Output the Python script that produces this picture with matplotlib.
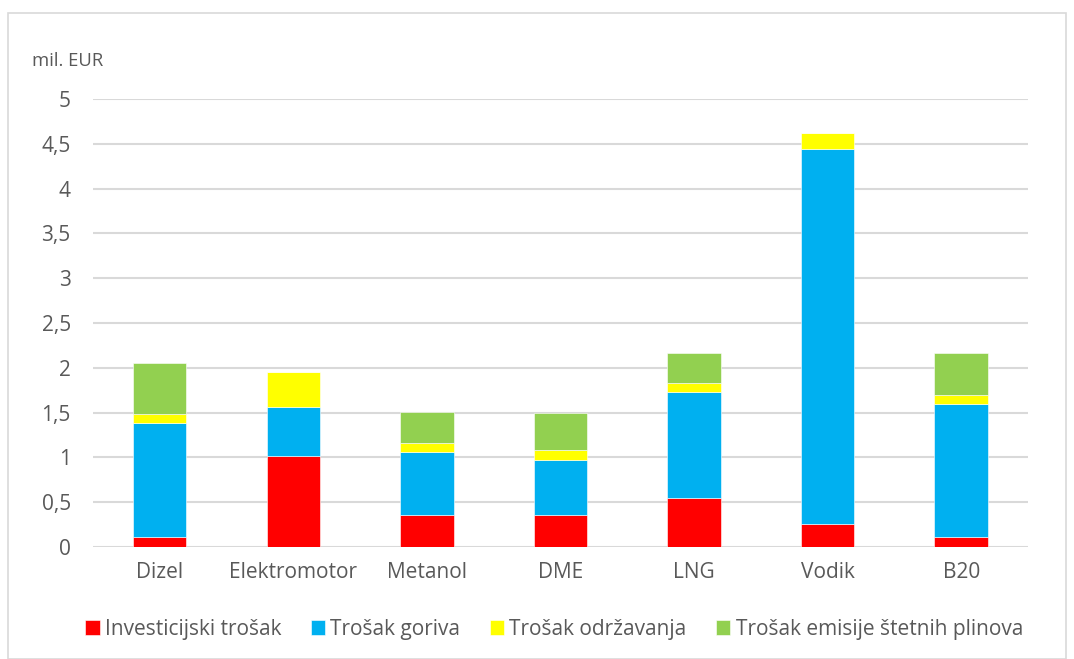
"""Stacked cost comparison per propulsion type (mil. EUR)."""

import matplotlib

matplotlib.use("Agg")
import matplotlib.pyplot as plt
import numpy as np
from matplotlib.patches import Rectangle

plt.rcParams["font.family"] = ["Open Sans", "DejaVu Sans"]

CATEGORIES = ["Dizel", "Elektromotor", "Metanol", "DME", "LNG", "Vodik", "B20"]
INVESTICIJSKI = [0.11, 1.015, 0.355, 0.355, 0.55, 0.26, 0.11]
GORIVO = [1.27, 0.55, 0.71, 0.62, 1.185, 4.18, 1.49]
ODRZAVANJE = [0.10, 0.39, 0.10, 0.105, 0.10, 0.175, 0.10]
EMISIJE = [0.575, 0.0, 0.34, 0.41, 0.33, 0.0, 0.46]
SERIES = [
    ("Investicijski trošak", INVESTICIJSKI, "#FF0000"),
    ("Trošak goriva", GORIVO, "#00B0F0"),
    ("Trošak održavanja", ODRZAVANJE, "#FFFF00"),
    ("Trošak emisije štetnih plinova", EMISIJE, "#92D050"),
]
Y_TICKS = [0, 0.5, 1, 1.5, 2, 2.5, 3, 3.5, 4, 4.5, 5]
TEXT = "#595959"

W, H = 1074, 659
fig = plt.figure(figsize=(W / 100, H / 100), dpi=100)
fig.patches.append(
    Rectangle((8 / W, 0), (1066 - 8) / W, 1 - 13 / H, transform=fig.transFigure,
              fill=False, edgecolor="#d9d9d9", linewidth=1.2)
)
ax = fig.add_axes([93 / W, 1 - 547 / H, (1028 - 93) / W, (547 - 99) / H])

x = np.arange(len(CATEGORIES))
bottom = np.zeros(len(CATEGORIES))
for label, vals, color in SERIES:
    vals = np.asarray(vals)
    ax.bar(x, vals, 0.4, bottom=bottom, color=color, label=label,
           edgecolor="white", linewidth=0.4, zorder=3)
    bottom += vals

ax.set_xlim(-0.5, len(CATEGORIES) - 0.5)
ax.set_ylim(0, 5)
ax.set_yticks(Y_TICKS)
ax.set_yticklabels([f"{v:g}".replace(".", ",") for v in Y_TICKS])
ax.set_xticks(x)
ax.set_xticklabels(CATEGORIES)
ax.tick_params(axis="y", length=0, pad=16, labelsize=15, labelcolor=TEXT)
ax.tick_params(axis="x", length=0, pad=11, labelsize=15, labelcolor=TEXT)
ax.grid(axis="y", color="#d9d9d9", linewidth=1.5, zorder=0)
for spine in ax.spines.values():
    spine.set_visible(False)

fig.text(32 / W, 1 - 61 / H, "mil. EUR", fontsize=13.3, color=TEXT, va="center")
fig.legend(loc="center", bbox_to_anchor=(554 / W, 1 - 629 / H), ncol=4,
           frameon=False, fontsize=15, handlelength=0.7, handleheight=0.7,
           handletextpad=0.25, columnspacing=1.4, labelcolor=TEXT)

fig.savefig("out.png", dpi=100)
